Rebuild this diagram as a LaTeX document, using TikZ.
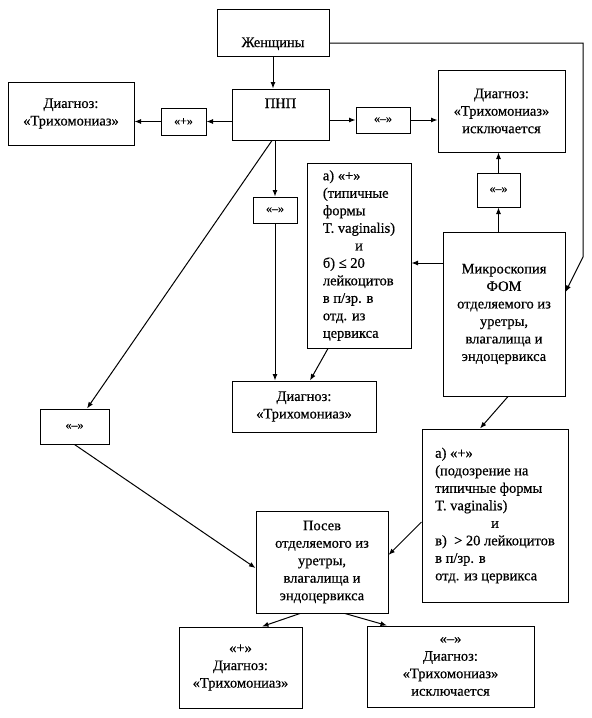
\documentclass[tikz,border=0pt]{standalone}
\usepackage{fontspec}
\setmainfont{Liberation Serif}[FakeBold=0.5]
\usetikzlibrary{arrows.meta}

\begin{document}
\begin{tikzpicture}[x=1pt, y=-1pt,
  box/.style={draw, line width=1pt, inner sep=0pt, align=center,
    font=\fontsize{14.5}{17.5}\selectfont},
  crit/.style={draw, line width=1pt, inner sep=0pt,
    font=\fontsize{14.5}{17.5}\selectfont},
  sign/.style={draw, line width=1pt, inner sep=0pt,
    font=\fontsize{12}{14}\selectfont},
  link/.style={-{Latex[length=6.5pt,width=5pt]}, line width=1pt}]
\useasboundingbox (0,0) rectangle (592,718);

\node[box, minimum width=112pt, minimum height=47pt, text height=32pt, text depth=3pt] (zhen) at (273,32.5) {Женщины};
\node[box, minimum width=97pt, minimum height=51pt, text height=9pt, text depth=22pt] (pnp) at (280.5,114.5) {ПНП};
\node[box, minimum width=126pt, minimum height=63pt] (diagL) at (71,113.5) {Диагноз:\\«Трихомониаз»};
\node[sign, minimum width=45pt, minimum height=27pt] (plusA) at (183.5,121.5) {«+»};
\node[sign, minimum width=54pt, minimum height=26pt] (minusA) at (383,120) {«–»};
\node[box, minimum width=127pt, minimum height=82pt] (diagEx) at (501.5,111) {Диагноз:\\«Трихомониаз»\\исключается};
\node[sign, minimum width=43pt, minimum height=34pt] (minusB) at (498.5,190) {«–»};
\node[box, minimum width=122pt, minimum height=164pt] (micro) at (504,314) {Микроскопия\\ФОМ\\отделяемого из\\уретры,\\влагалища и\\эндоцервикса};
\node[crit, minimum width=104pt, minimum height=185pt] (critA) at (359,255.5) {\begin{tabular}{@{}l@{}}
а) «+»\\
(типичные\\
формы\\
T. vaginalis)\\
\multicolumn{1}{@{}c@{}}{и}\\
б) ≤ 20\\
лейкоцитов\\
в п/зр. в\\
отд. из\\
цервикса
\end{tabular}};
\node[sign, minimum width=44pt, minimum height=26pt] (minusC) at (275,210) {«–»};
\node[box, minimum width=144pt, minimum height=51pt] (diagM) at (304,406.5) {Диагноз:\\«Трихомониаз»};
\node[sign, minimum width=69pt, minimum height=35pt] (minusL) at (74.5,426.5) {«–»};
\node[crit, minimum width=146pt, minimum height=173pt] (critB) at (495,515.5) {\begin{tabular}{@{}l@{}}
а) «+»\\
(подозрение на\\
типичные формы\\
T. vaginalis)\\
\multicolumn{1}{@{}c@{}}{и}\\
в)~ > 20 лейкоцитов\\
в п/зр. в\\
отд. из цервикса
\end{tabular}};
\node[box, minimum width=132pt, minimum height=102pt] (posev) at (322,562) {Посев\\отделяемого из\\уретры,\\влагалища и\\эндоцервикса};
\node[box, minimum width=123pt, minimum height=81pt] (diagP) at (240.5,667.5) {«+»\\Диагноз:\\«Трихомониаз»};
\node[box, minimum width=167pt, minimum height=81pt] (diagN) at (450.5,666.5) {«–»\\Диагноз:\\«Трихомониаз»\\исключается};

\coordinate (c1) at (583,43);
\coordinate (c2) at (583,257);

\draw[link] (zhen.south) -- (zhen.south |- pnp.north);
\draw[link] (plusA.east -| pnp.west) -- (plusA.east);
\draw[link] (plusA.west) -- (plusA.west -| diagL.east);
\draw[link] (minusA.west -| pnp.east) -- (minusA.west);
\draw[link] (minusA.east) -- (minusA.east -| diagEx.west);
\draw[link] (zhen.east |- c1) -- (c1) -- (c2) -- ([yshift=22pt]micro.east);
\draw[link] (minusB.south |- micro.north) -- (minusB.south);
\draw[link] (minusB.north) -- (minusB.north |- diagEx.south);
\draw[link] ([yshift=51pt]micro.west) -- ([yshift=-7.5pt]critA.east);
\draw[link] (minusC.north |- pnp.south) -- (minusC.north);
\draw[link] (minusC.south) -- (minusC.south |- diagM.north);
\draw[link] ([xshift=-31pt]critA.south) -- ([xshift=6pt]diagM.north);
\draw[link] ([xshift=-8.5pt]pnp.south) -- ([xshift=12.5pt]minusL.north);
\draw[link] (minusL.south) -- ([yshift=-6pt]posev.west);
\draw[link] ([xshift=4pt]micro.south) -- ([xshift=-15pt]critB.north);
\draw[link] ([yshift=-6.5pt]critB.west) -- ([yshift=7pt]posev.east);
\draw[link] ([xshift=-22pt]posev.south) -- ([xshift=21.5pt]diagP.north);
\draw[link] ([xshift=23pt]posev.south) -- ([xshift=-63.5pt]diagN.north);
\end{tikzpicture}
\end{document}
